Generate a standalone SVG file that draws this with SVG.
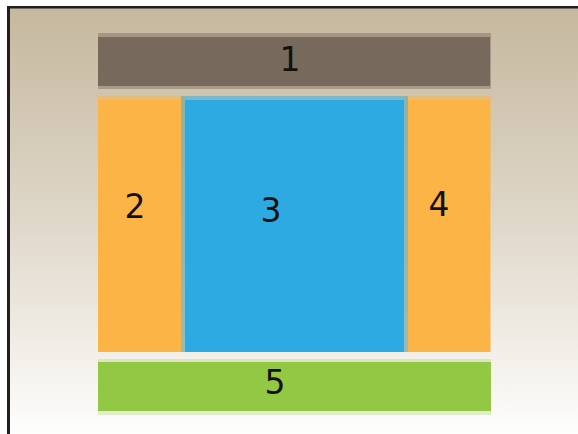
<svg xmlns="http://www.w3.org/2000/svg" width="578" height="434" viewBox="0 0 578 434">
<defs>
<linearGradient id="bg" x1="0" y1="0" x2="0" y2="1">
<stop offset="0" stop-color="#c5b89e"/>
<stop offset="0.5" stop-color="#dfd7c9"/>
<stop offset="1" stop-color="#fefefd"/>
</linearGradient>
</defs>
<style>
.lbl{font-family:"DejaVu Sans",sans-serif;font-size:33px;fill:#111;text-anchor:middle}
</style>
<rect x="0" y="0" width="578" height="434" fill="#ffffff"/>
<rect x="10" y="8" width="568" height="426" fill="url(#bg)"/>
<rect x="7" y="6" width="3" height="428" fill="#231f20"/>
<rect x="7" y="6" width="571" height="2.5" fill="#231f20"/>
<g id="n1">
<rect x="98" y="33" width="393" height="56" fill="#776a5c" fill-opacity="0.45"/>
<rect x="98" y="37" width="392" height="49" fill="#776a5c"/>
<text class="lbl" x="290" y="71">1</text>
</g>
<g id="n2">
<rect x="98" y="96" width="87" height="256" fill="#fdb446" fill-opacity="0.5"/>
<rect x="98" y="100" width="83" height="252" fill="#fdb446"/>
<text class="lbl" x="135" y="218">2</text>
</g>
<g id="n4">
<rect x="404" y="96" width="87" height="256" fill="#fdb446" fill-opacity="0.5"/>
<rect x="408" y="100" width="82" height="252" fill="#fdb446"/>
<text class="lbl" x="439" y="216">4</text>
</g>
<g id="n3">
<rect x="181" y="96" width="227" height="256" fill="#2eaae2" fill-opacity="0.5"/>
<rect x="185" y="100" width="219" height="252" fill="#2eaae2"/>
<text class="lbl" x="271" y="222">3</text>
</g>
<g id="n5">
<rect x="98" y="359" width="393" height="56" fill="#92c843" fill-opacity="0.25"/>
<rect x="98" y="362" width="393" height="49" fill="#92c843"/>
<text class="lbl" x="275" y="394">5</text>
</g>
<g id="connectors"/>
</svg>
